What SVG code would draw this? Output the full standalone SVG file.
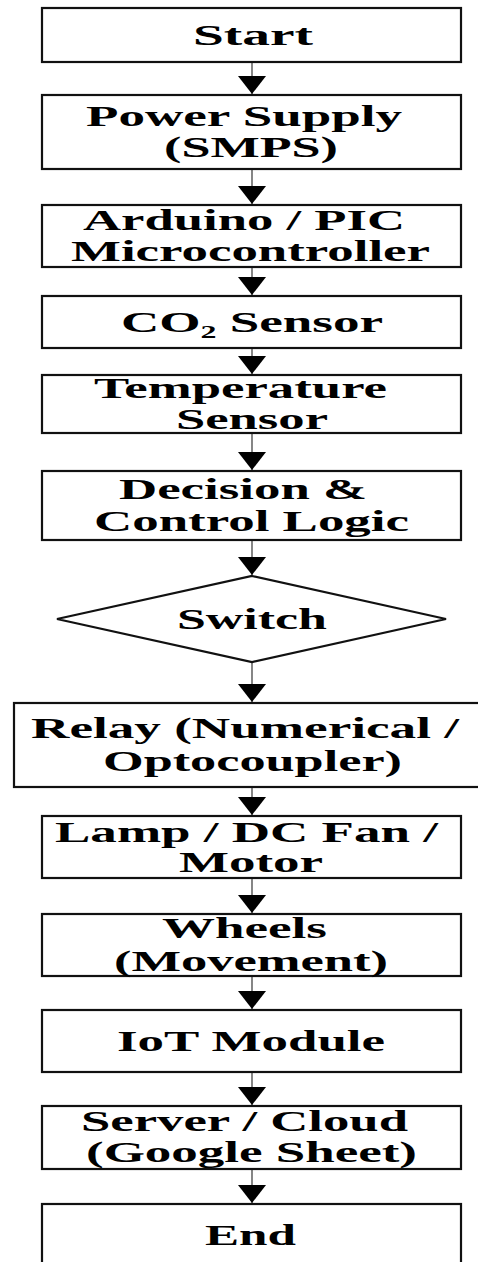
<svg xmlns="http://www.w3.org/2000/svg" width="478" height="1262" viewBox="0 0 478 1262">
<style>
.box{fill:#fff;stroke:#111;stroke-width:2.2}
.lbl{font-family:"Liberation Serif","Times New Roman",serif;font-weight:bold;font-size:30px;fill:#000}
.conn{stroke:#444;stroke-width:1.3;fill:none}
</style>
<defs>
<marker id="arr" markerUnits="userSpaceOnUse" markerWidth="20" markerHeight="30" refX="18" refY="14" orient="auto">
<path d="M0,0 L18,14 L0,28 z" fill="#000"/>
</marker>
</defs>
<rect width="478" height="1262" fill="#fff"/>
<g id="connectors">
<line class="conn" x1="252" y1="62" x2="252" y2="94" marker-end="url(#arr)"/>
<line class="conn" x1="252" y1="169" x2="252" y2="204" marker-end="url(#arr)"/>
<line class="conn" x1="252" y1="267" x2="252" y2="295" marker-end="url(#arr)"/>
<line class="conn" x1="252" y1="348" x2="252" y2="374" marker-end="url(#arr)"/>
<line class="conn" x1="252" y1="433" x2="252" y2="470" marker-end="url(#arr)"/>
<line class="conn" x1="252" y1="540" x2="252" y2="575" marker-end="url(#arr)"/>
<line class="conn" x1="252" y1="662" x2="252" y2="702" marker-end="url(#arr)"/>
<line class="conn" x1="252" y1="787" x2="252" y2="815" marker-end="url(#arr)"/>
<line class="conn" x1="252" y1="878" x2="252" y2="913" marker-end="url(#arr)"/>
<line class="conn" x1="252" y1="976" x2="252" y2="1009" marker-end="url(#arr)"/>
<line class="conn" x1="252" y1="1072" x2="252" y2="1105" marker-end="url(#arr)"/>
<line class="conn" x1="252" y1="1169" x2="252" y2="1203" marker-end="url(#arr)"/>
</g>
<g id="start">
<rect class="box" x="42" y="8" width="419" height="54"/>
<text class="lbl" x="193" y="45" textLength="120" lengthAdjust="spacingAndGlyphs">Start</text>
</g>
<g id="power">
<rect class="box" x="42" y="95" width="419" height="74"/>
<text class="lbl" x="86" y="126" textLength="316" lengthAdjust="spacingAndGlyphs">Power Supply</text>
<text class="lbl" x="164" y="157" textLength="174" lengthAdjust="spacingAndGlyphs">(SMPS)</text>
</g>
<g id="mcu">
<rect class="box" x="42" y="205" width="419" height="62"/>
<text class="lbl" x="83" y="230" textLength="322" lengthAdjust="spacingAndGlyphs">Arduino / PIC</text>
<text class="lbl" x="71" y="261" textLength="359" lengthAdjust="spacingAndGlyphs">Microcontroller</text>
</g>
<g id="co2">
<rect class="box" x="42" y="296" width="419" height="52"/>
<text class="lbl" x="121" y="332" textLength="262" lengthAdjust="spacingAndGlyphs">CO₂ Sensor</text>
</g>
<g id="temp">
<rect class="box" x="42" y="375" width="419" height="58"/>
<text class="lbl" x="94" y="398" textLength="293" lengthAdjust="spacingAndGlyphs">Temperature</text>
<text class="lbl" x="176" y="429" textLength="152" lengthAdjust="spacingAndGlyphs">Sensor</text>
</g>
<g id="decision">
<rect class="box" x="42" y="471" width="419" height="69"/>
<text class="lbl" x="119" y="499" textLength="248" lengthAdjust="spacingAndGlyphs">Decision &amp;</text>
<text class="lbl" x="94" y="531" textLength="315" lengthAdjust="spacingAndGlyphs">Control Logic</text>
</g>
<g id="switch">
<polygon class="box" points="252,576 446,619 252,662 57,619"/>
<text class="lbl" x="177" y="629" textLength="150" lengthAdjust="spacingAndGlyphs">Switch</text>
</g>
<g id="relay">
<rect class="box" x="14" y="703" width="480" height="84"/>
<text class="lbl" x="31" y="738" textLength="428" lengthAdjust="spacingAndGlyphs">Relay (Numerical /</text>
<text class="lbl" x="103" y="771" textLength="299" lengthAdjust="spacingAndGlyphs">Optocoupler)</text>
</g>
<g id="actuators">
<rect class="box" x="42" y="816" width="419" height="62"/>
<text class="lbl" x="55" y="842" textLength="383" lengthAdjust="spacingAndGlyphs">Lamp / DC Fan /</text>
<text class="lbl" x="179" y="872" textLength="144" lengthAdjust="spacingAndGlyphs">Motor</text>
</g>
<g id="wheels">
<rect class="box" x="42" y="914" width="419" height="62"/>
<text class="lbl" x="162" y="938" textLength="165" lengthAdjust="spacingAndGlyphs">Wheels</text>
<text class="lbl" x="114" y="971" textLength="274" lengthAdjust="spacingAndGlyphs">(Movement)</text>
</g>
<g id="iot">
<rect class="box" x="42" y="1010" width="419" height="62"/>
<text class="lbl" x="117" y="1051" textLength="268" lengthAdjust="spacingAndGlyphs">IoT Module</text>
</g>
<g id="server">
<rect class="box" x="42" y="1106" width="419" height="63"/>
<text class="lbl" x="81" y="1131" textLength="327" lengthAdjust="spacingAndGlyphs">Server / Cloud</text>
<text class="lbl" x="86" y="1162" textLength="331" lengthAdjust="spacingAndGlyphs">(Google Sheet)</text>
</g>
<g id="end">
<rect class="box" x="42" y="1204" width="419" height="70"/>
<text class="lbl" x="205" y="1245" textLength="91" lengthAdjust="spacingAndGlyphs">End</text>
</g>
</svg>
